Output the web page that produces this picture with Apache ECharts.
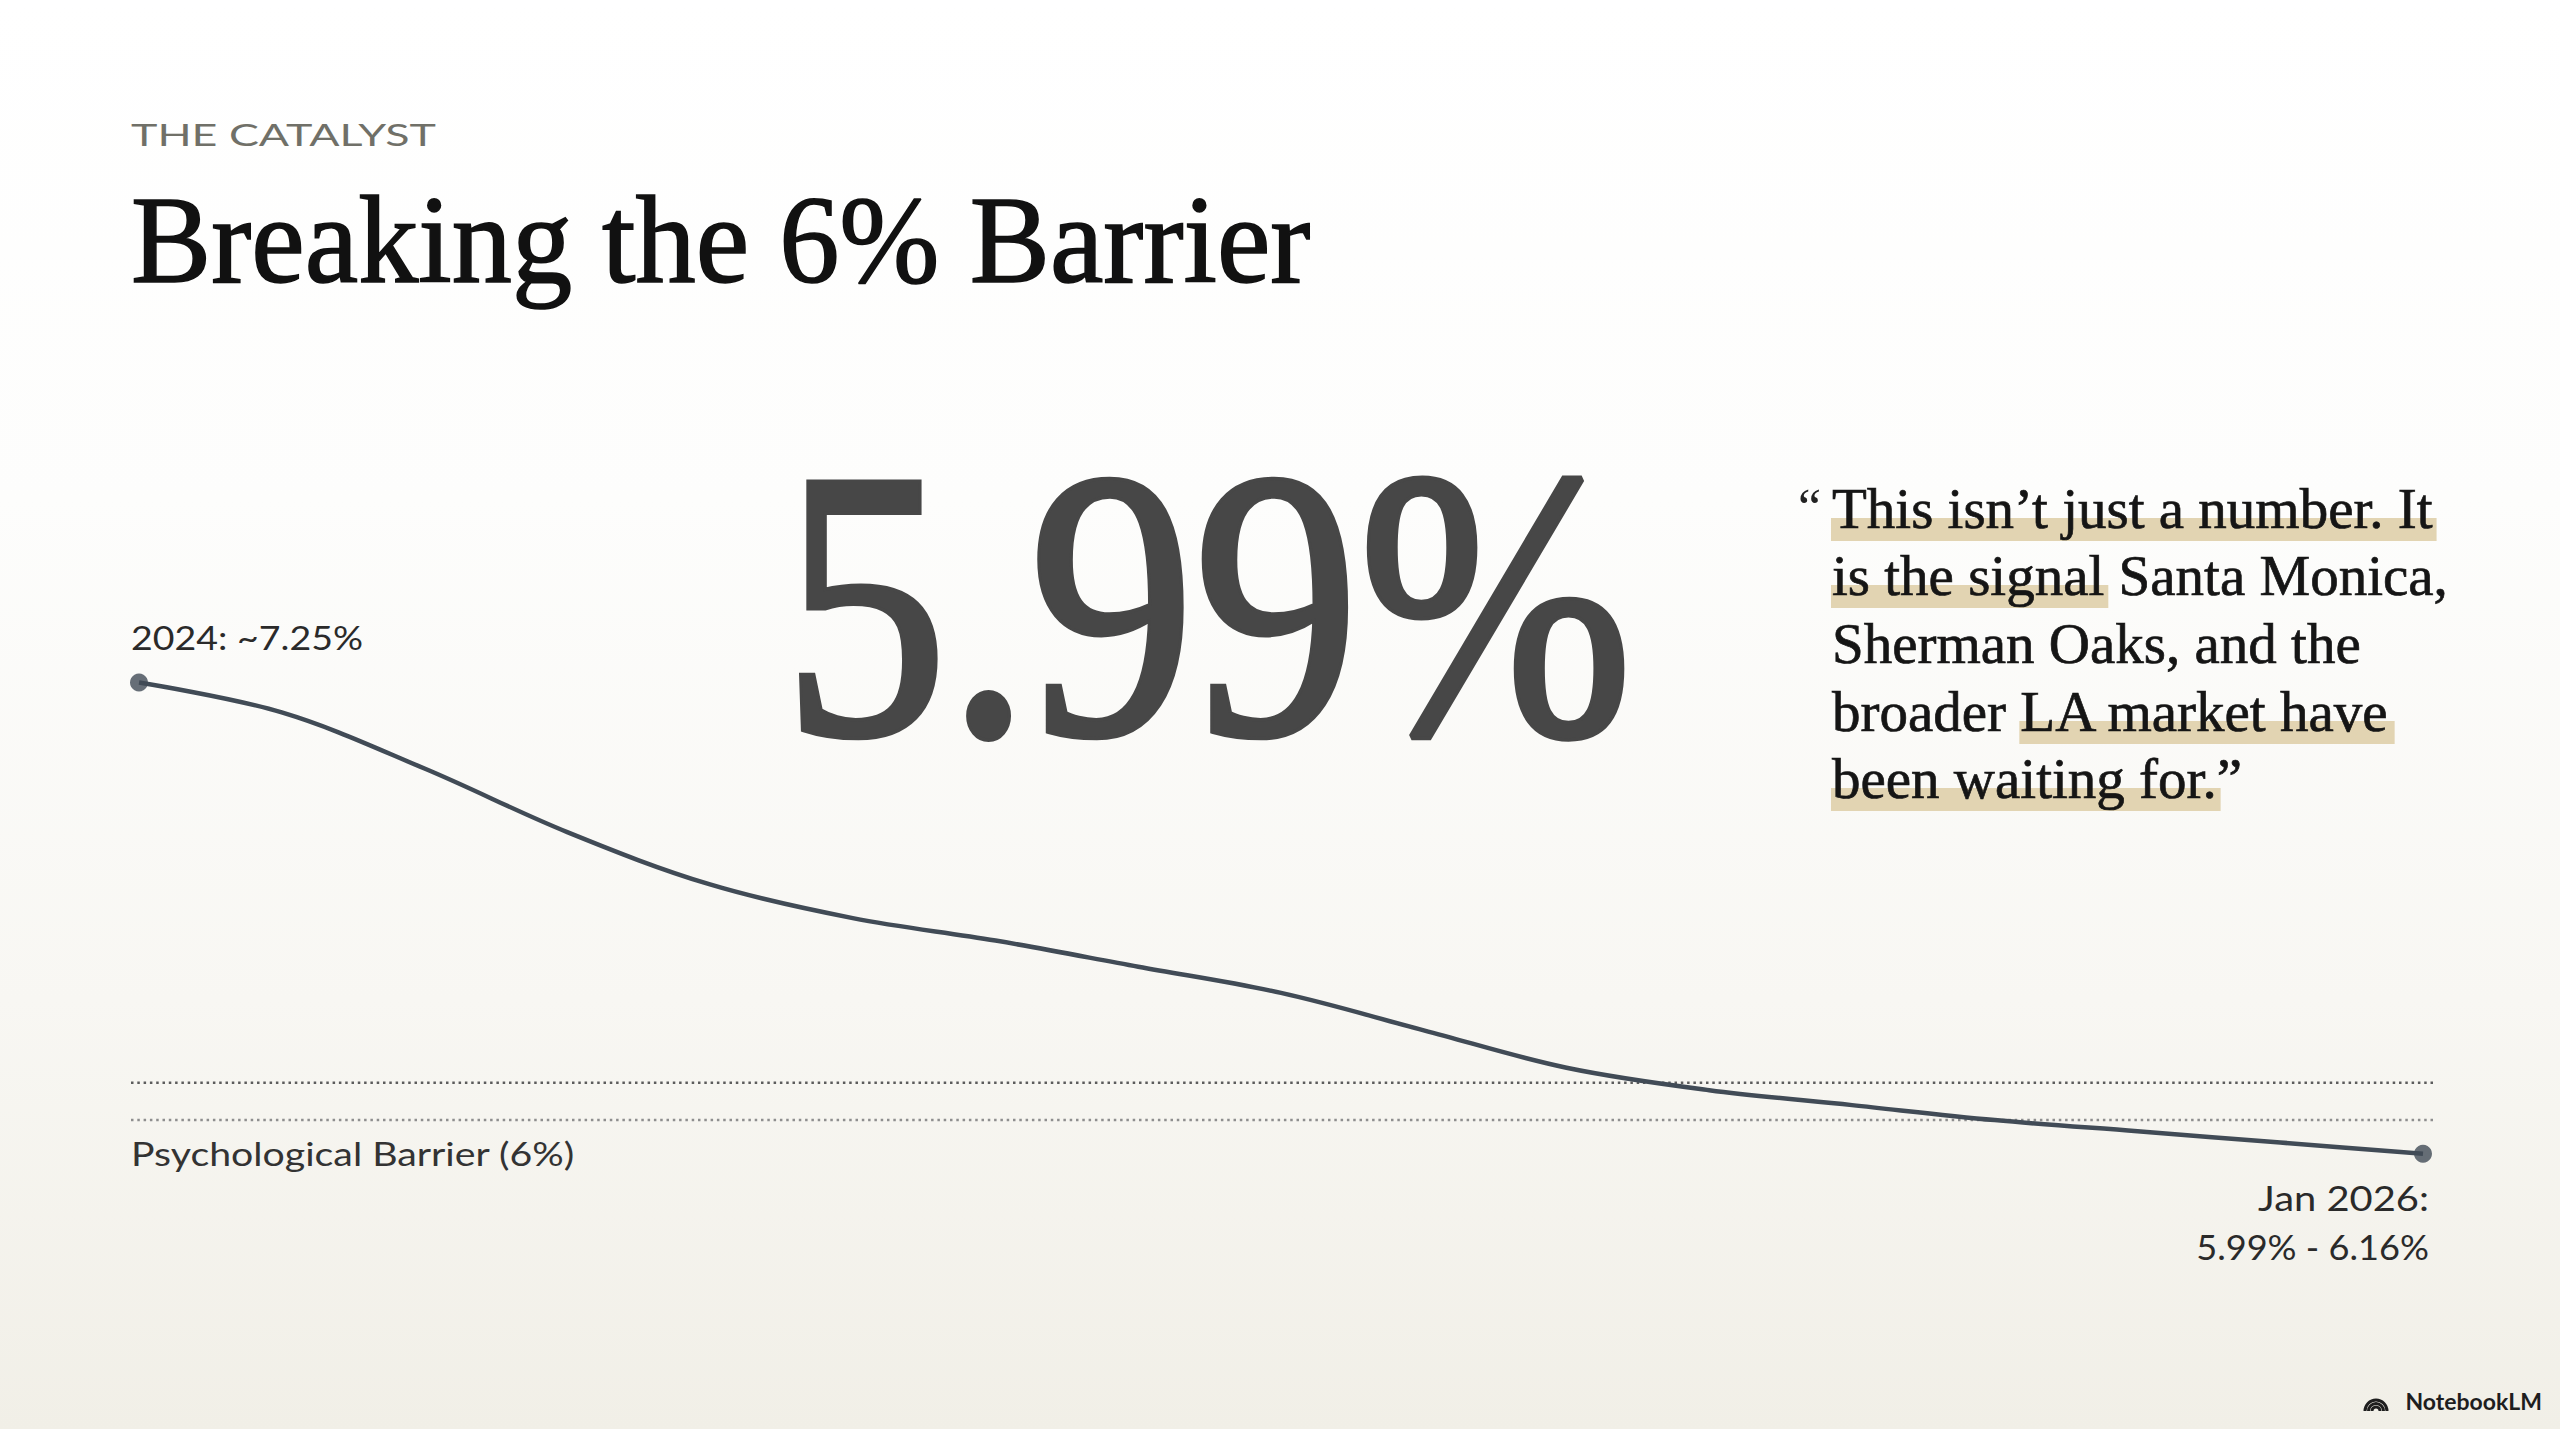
<!DOCTYPE html>
<html><head><meta charset="utf-8">
<script src="https://cdn.jsdelivr.net/npm/echarts@6/dist/echarts.min.js"></script>
<style>
html,body{margin:0;padding:0;width:2560px;height:1429px;overflow:hidden;}
#chart{width:2560px;height:1429px;background:linear-gradient(180deg,#ffffff 0%,#fdfdfc 35%,#f8f7f3 70%,#f1efe7 100%);}
</style></head><body><div id="chart"></div>
<script>
// ---- data ----
const steps = [0, 1, 2, 3, 4, 5, 6, 7, 8, 9, 10, 11, 12, 13, 14, 15, 16];
const rates = [7.25, 7.17, 7.02, 6.85, 6.71, 6.62, 6.56, 6.49, 6.42, 6.32, 6.22, 6.16, 6.12, 6.08, 6.05, 6.02, 5.99];
const barrierLevels = [6.18, 6.08];
const kicker = 'THE CATALYST';
const title = 'Breaking the 6% Barrier';
const headline = '5.99%';
const startLabel = '2024: ~7.25%';
const endLabel = ['Jan 2026:', '5.99% - 6.16%'];
const barrierLabel = 'Psychological Barrier (6%)';
const quoteLines = ['This isn\u2019t just a number. It', 'is the signal Santa Monica,', 'Sherman Oaks, and the', 'broader LA market have', 'been waiting for.\u201d'];
const quoteHighlights = [[0, '', 'This isn\u2019t just a number. It'], [1, '', 'is the signal'], [3, 'broader ', 'LA market have'], [4, '', 'been waiting for.']];
const brand = 'NotebookLM';

// ---- layout ----
const SERIF = '"Liberation Serif", "Times New Roman", serif';
const SANS = 'Lato, "Open Sans", sans-serif';
const X_MIN = -0.056, X_MAX = 16.07;
const LINE_COLOR = '#414b56';

const ctx = document.createElement('canvas').getContext('2d');
function tw(text, size, family, weight) { ctx.font = (weight || 'normal') + ' ' + size + 'px ' + family; return ctx.measureText(text).width; }

const chart = echarts.init(document.getElementById('chart'), null, { renderer: 'svg' });

const graphics = [];
function txt(text, x, y, size, family, color, opts) {
  opts = opts || {};
  const g = { type: 'text', x: x, y: y, z: opts.z || 10, style: { text: text, fontSize: size, fontFamily: family, fill: color, fontWeight: opts.weight || 'normal', textAlign: opts.align || 'left', textVerticalAlign: 'middle' } };
  if (opts.border) { g.style.stroke = color; g.style.lineWidth = opts.border; }
  if (opts.width) { g.scaleX = opts.width / tw(text, size, family, opts.weight); }
  if (opts.width && opts.align === 'right') { g.originX = 0; }
  graphics.push(g);
}

txt(kicker, 131, 134, 30, SANS, '#707068', { width: 305 });
txt(title, 131, 240, 126, SERIF, '#111111', { width: 1180, border: 1.6 });
txt(headline, 783, 604, 382, SERIF, '#474747', { width: 850, border: 7 });

// quote
const QS = 57, QX = 1832, QB = [527, 594, 662, 730, 797];
quoteHighlights.forEach(h => {
  const x0 = QX + tw(h[1], QS, SERIF);
  const w = tw(h[2], QS, SERIF);
  graphics.push({ type: 'rect', z: 5, shape: { x: x0 - 1, y: QB[h[0]] - 9, width: w + 5, height: 23 }, style: { fill: '#e2d4b2' } });
});
graphics.push({ type: 'text', x: 1798, y: QB[0] - 20, z: 10, style: { text: '\u201c', fontSize: 52, fontFamily: SERIF, fill: '#222', textVerticalAlign: 'middle' } });
quoteLines.forEach((l, i) => txt(l, QX, QB[i] - 19, QS, SERIF, '#151515', { border: 0.7 }));

// chart labels
txt(startLabel, 131, 637, 33, SANS, '#2a2a2a', { width: 232 });
txt(barrierLabel, 131, 1153, 33, SANS, '#333333', { width: 444 });
txt(endLabel[0], 2429, 1198, 34, SANS, '#2a2a2a', { align: 'right', width: 171 });
txt(endLabel[1], 2429, 1246, 34, SANS, '#2a2a2a', { align: 'right', width: 233 });

// brand
txt(brand, 2542, 1401, 23, SANS, '#1e1e1e', { align: 'right', weight: 'bold' });
[11, 7.5, 4].forEach(r => graphics.push({ type: 'arc', z: 10, shape: { cx: 2376, cy: 1411, r: r, startAngle: Math.PI, endAngle: 2 * Math.PI }, style: { stroke: '#1e1e1e', lineWidth: 3, fill: 'none' } }));

const series = [];
barrierLevels.forEach((lv, i) => series.push({
  type: 'line', z: 1, silent: true, symbol: 'none',
  data: [[X_MIN, lv], [X_MAX, lv]],
  lineStyle: { color: i === 0 ? '#5c5c5c' : '#8e8e8e', width: 2.5, type: [2.5, 3.8] }
}));
series.push({
  type: 'line', z: 3, smooth: 0.35, symbol: 'none',
  data: steps.map((s, i) => [s, rates[i]]),
  lineStyle: { color: LINE_COLOR, width: 4.5 }
});
series.push({
  type: 'scatter', z: 4, symbolSize: 18,
  data: [[steps[0], rates[0]], [steps[steps.length - 1], rates[rates.length - 1]]],
  itemStyle: { color: LINE_COLOR }
});

chart.setOption({
  backgroundColor: 'transparent',
  animation: false,
  grid: { left: 131, width: 2302, top: 589, height: 748 },
  xAxis: { type: 'value', min: X_MIN, max: X_MAX, show: false },
  yAxis: { type: 'value', min: 5.5, max: 7.5, show: false },
  series: series,
  graphic: graphics
});
</script></body></html>
